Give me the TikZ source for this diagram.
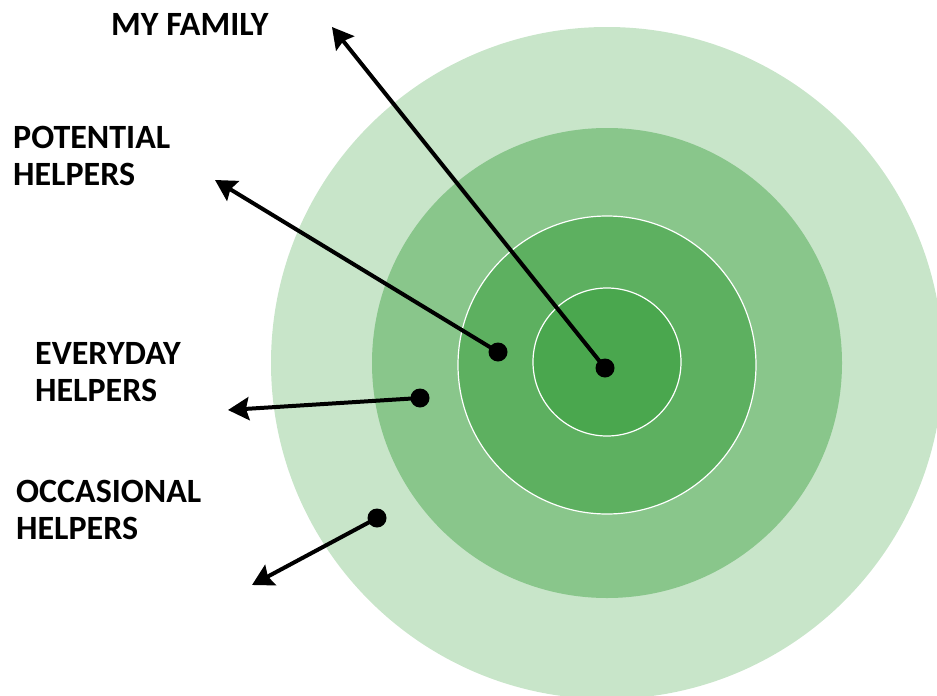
\documentclass[tikz,border=0pt]{standalone}
\usepackage{fontspec}
\setmainfont{Carlito}
\usetikzlibrary{arrows.meta}
\definecolor{ringfour}{RGB}{200,229,201}
\definecolor{ringthree}{RGB}{137,198,139}
\definecolor{ringtwo}{RGB}{93,176,96}
\definecolor{ringone}{RGB}{74,167,78}
\begin{document}
\begin{tikzpicture}[x=1pt, y=-1pt,
        pointer/.style={line width=4pt, -{Stealth[length=21pt, width=23pt, inset=3pt]}},
        spot/.style={circle, fill=black, inner sep=0pt, minimum size=19pt},
        caption/.style={font=\fontsize{34}{37}\selectfont\bfseries, align=left, anchor=base west, inner sep=0pt}]
        \useasboundingbox (0, 0) rectangle (937, 696);
        \clip (0, 0) rectangle (937, 696);
        \fill[ringfour] (607, 363) circle [radius=336];
        \fill[ringthree] (607, 363) circle [radius=235];
        \filldraw[fill=ringtwo, draw=white, line width=1.2pt] (607, 365) circle [radius=149];
        \filldraw[fill=ringone, draw=white, line width=1.2pt] (607, 362) circle [radius=74];
        % the base of a two-line caption is its last line
        \node [caption] (family) at (111, 35) {MY FAMILY};
        \node [caption] (potential) at (13, 185) {POTENTIAL\\HELPERS};
        \node [caption] (everyday) at (35, 401) {EVERYDAY\\HELPERS};
        \node [caption] (occasional) at (16, 539) {OCCASIONAL\\HELPERS};
        \node [spot] (familyspot) at (605, 368) {};
        \node [spot] (potentialspot) at (498, 352) {};
        \node [spot] (everydayspot) at (420, 398) {};
        \node [spot] (occasionalspot) at (377, 518) {};
        \coordinate (familytip) at (332, 27);
        \coordinate (potentialtip) at (215, 180);
        \coordinate (everydaytip) at (228, 410);
        \coordinate (occasionaltip) at (252, 585);
        \draw [pointer] (familyspot.center) -- (familytip);
        \draw [pointer] (potentialspot.center) -- (potentialtip);
        \draw [pointer] (everydayspot.center) -- (everydaytip);
        \draw [pointer] (occasionalspot.center) -- (occasionaltip);
    \end{tikzpicture}
\end{document}
